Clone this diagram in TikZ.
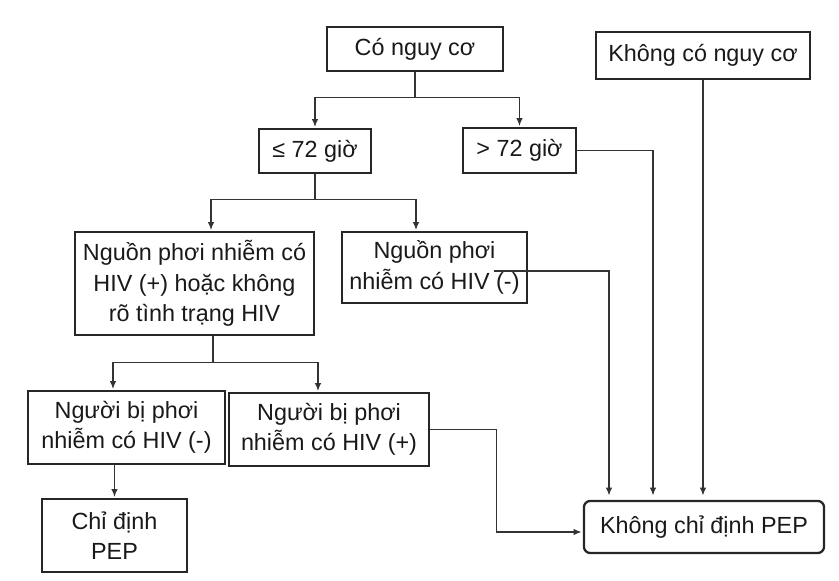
\documentclass[tikz,border=0pt]{standalone}
\usepackage{fontspec}
\setmainfont{Liberation Sans}
\usetikzlibrary{arrows.meta,calc}

\begin{document}
\begin{tikzpicture}[scale=0.2,
		box/.style={draw=black!85,line width=0.7pt,align=center,inner sep=0pt,text=black!90,font=\fontsize{13.3}{17.4}\selectfont},
		endbox/.style={box,line width=1.3pt,rounded corners=3.5pt},
		link/.style={draw=black!80,line width=0.65pt},
		arr/.style={link,-{Latex[length=4.4pt,width=3.6pt]},shorten >=0.8pt}]
		\useasboundingbox (0,0) rectangle (83.9,-58.1);
		\node [box,minimum width=3.52cm,minimum height=0.88cm] (cony) at (41.5,-4.9) {Có nguy cơ};
		\node [box,minimum width=4.28cm,minimum height=0.94cm] (kco) at (70.3,-5.55) {Không có nguy cơ};
		\node [box,minimum width=2.24cm,minimum height=0.88cm] (le72) at (31.5,-15.1) {≤ 72 giờ};
		\node [box,minimum width=2.26cm,minimum height=0.9cm] (gt72) at (51.95,-15.05) {> 72 giờ};
		\node [box,minimum width=4.78cm,minimum height=2.06cm] (npos) at (19.45,-28.35) {Nguồn phơi nhiễm có\\HIV (+) hoặc không\\rõ tình trạng HIV};
		\node [box,minimum width=3.7cm,minimum height=1.42cm] (nneg) at (43.45,-26.75) {Nguồn phơi\\nhiễm có HIV (-)};
		\node [box,minimum width=3.94cm,minimum height=1.46cm] (ngneg) at (12.65,-42.75) {Người bị phơi\\nhiễm có HIV (-)};
		\node [box,minimum width=4cm,minimum height=1.46cm] (ngpos) at (32.9,-42.95) {Người bị phơi\\nhiễm có HIV (+)};
		\node [box,minimum width=2.9cm,minimum height=1.46cm] (cdinh) at (11.45,-53.55) {Chỉ định\\PEP};
		\node [endbox,minimum width=4.8cm,minimum height=1.04cm] (kcd) at (70.4,-52.7) {Không chỉ định PEP};
		\draw [arr] (cony.south) -- ++(0,-2.6) -| (le72.north);
		\draw [arr] (cony.south) -- ++(0,-2.6) -| (gt72.north);
		\draw [arr] (le72.south) -- ++(0,-2.6) -| ($(npos.north)+(1.65,0)$);
		\draw [arr] (le72.south) -- ++(0,-2.6) -| ($(nneg.north)+(-1.85,0)$);
		\draw [arr] ($(npos.south)+(1.85,0)$) -- ++(0,-2.7) -| ($(ngneg.north)+(-1.35,0)$);
		\draw [arr] ($(npos.south)+(1.85,0)$) -- ++(0,-2.7) -| ($(ngpos.north)+(-1.1,0)$);
		\draw [arr] (ngneg.south -| cdinh.north) -- (cdinh.north);
		\draw [arr,shorten >=2.5pt] (gt72.east) -| ($(kcd.north)+(-5.1,0)$);
		\draw [arr,shorten >=2.5pt] (kco.south) -- (kco.south |- kcd.north);
		\draw [arr,shorten >=2.5pt] ($(nneg.east)+(-3.4,-0.35)$) -| ($(kcd.north)+(-9.5,0)$);
		\draw [arr] (ngpos.east) -- ++(6.7,0) |- ($(kcd.west)+(0,-0.5)$);
	\end{tikzpicture}
\end{document}
